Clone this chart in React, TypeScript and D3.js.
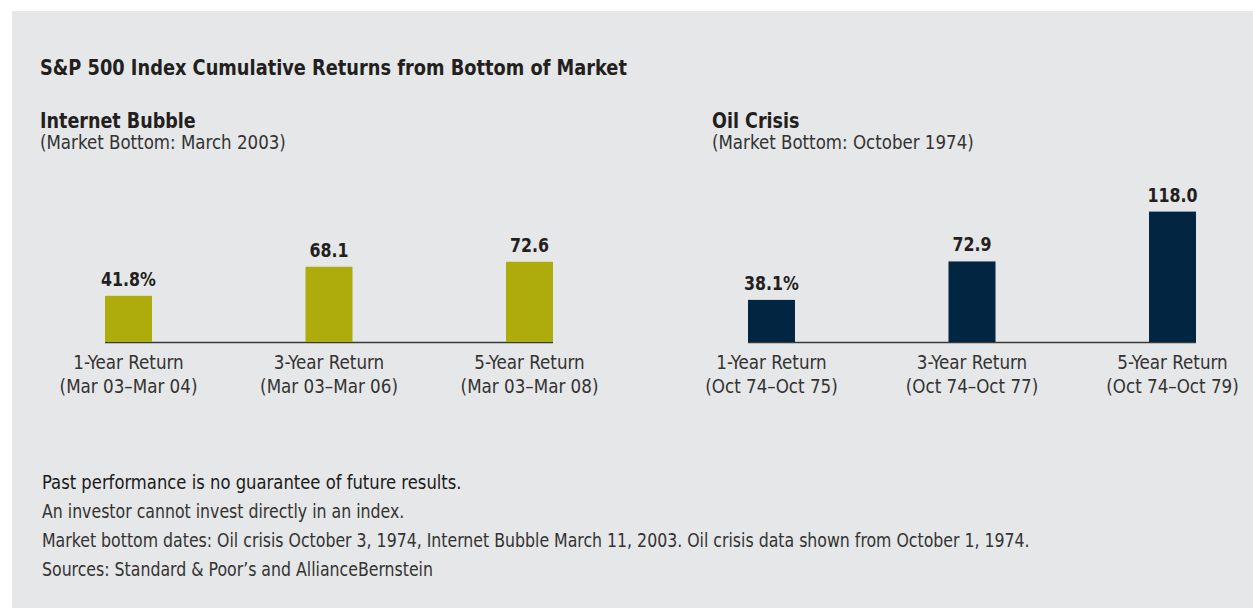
import React from "react";
import * as d3 from "d3";

const chartTitle = "S&P 500 Index Cumulative Returns from Bottom of Market";

const internetCategories = ["1-Year Return", "3-Year Return", "5-Year Return"];
const internetPeriods = ["(Mar 03–Mar 04)", "(Mar 03–Mar 06)", "(Mar 03–Mar 08)"];
const internetValues = [41.8, 68.1, 72.6];
const internetLabels = ["41.8%", "68.1", "72.6"];

const oilCategories = ["1-Year Return", "3-Year Return", "5-Year Return"];
const oilPeriods = ["(Oct 74–Oct 75)", "(Oct 74–Oct 77)", "(Oct 74–Oct 79)"];
const oilValues = [38.1, 72.9, 118.0];
const oilLabels = ["38.1%", "72.9", "118.0"];

const panelTitles = ["Internet Bubble", "Oil Crisis"];
const panelSubtitles = ["(Market Bottom: March 2003)", "(Market Bottom: October 1974)"];

const footnotes = [
  "Past performance is no guarantee of future results.",
  "An investor cannot invest directly in an index.",
  "Market bottom dates: Oil crisis October 3, 1974, Internet Bubble March 11, 2003. Oil crisis data shown from October 1, 1974.",
  "Sources: Standard & Poor’s and AllianceBernstein",
];

const W = 1253;
const H = 608;
const FONT = "'Liberation Sans Narrow', 'DejaVu Sans Condensed', 'Liberation Sans', sans-serif";
const DARK = "#231f20";
const TEXT = "#333333";

const baseY = 342;
const y = d3.scaleLinear().domain([0, 120]).range([baseY, baseY - 132.6]);
const barW = 47;

type TProps = {
  x: number;
  y: number;
  sx: number;
  size: number;
  weight?: number;
  anchor?: "start" | "middle" | "end";
  fill?: string;
  children: React.ReactNode;
};

function T({ x, y, sx, size, weight = 400, anchor = "start", fill = TEXT, children }: TProps) {
  return (
    <text
      transform={`translate(${x},${y}) scale(${sx},1)`}
      textAnchor={anchor}
      fontFamily={FONT}
      fontSize={size}
      fontWeight={weight}
      fill={fill}
    >
      {children}
    </text>
  );
}

type PanelProps = {
  x0: number;
  x1: number;
  cats: string[];
  periods: string[];
  values: number[];
  labels: string[];
  color: string;
  title: string;
  subtitle: string;
  titleX: number;
};

function Panel({ x0, x1, cats, periods, values, labels, color, title, subtitle, titleX }: PanelProps) {
  const keys = cats.map((c, i) => c + i);
  const x = d3.scalePoint<string>().domain(keys).range([x0, x1]);
  return (
    <g>
      <T x={titleX} y={128} sx={0.887} size={22} weight={700} fill={DARK}>
        {title}
      </T>
      <T x={titleX} y={149} sx={0.975} size={19}>
        {subtitle}
      </T>
      <line
        x1={(x(keys[0]) as number) - barW / 2}
        x2={(x(keys[keys.length - 1]) as number) + barW / 2}
        y1={baseY + 0.5}
        y2={baseY + 0.5}
        stroke="#3a3a3a"
        strokeWidth={1.3}
      />
      {values.map((v, i) => {
        const cx = x(keys[i]) as number;
        return (
          <g key={i}>
            <rect x={cx - barW / 2} y={y(v)} width={barW} height={baseY - y(v)} fill={color} />
            <T x={cx} y={y(v) - 10} sx={0.88} size={20} weight={700} anchor="middle" fill={DARK}>
              {labels[i]}
            </T>
            <T x={cx} y={369} sx={0.98} size={19} anchor="middle">
              {cats[i]}
            </T>
            <T x={cx} y={393} sx={0.98} size={19} anchor="middle">
              {periods[i]}
            </T>
          </g>
        );
      })}
    </g>
  );
}

export default function App() {
  return (
    <svg
      width={W}
      height={H}
      style={{ position: "absolute", left: 0, top: 0, display: "block" }}
    >
      <rect x={12} y={11} width={W - 12} height={H - 11} fill="#e6e7e8" />
      <T x={40} y={75} sx={0.942} size={21} weight={700} fill={DARK}>
        {chartTitle}
      </T>
      <Panel
        x0={128.5}
        x1={529.5}
        cats={internetCategories}
        periods={internetPeriods}
        values={internetValues}
        labels={internetLabels}
        color="#aeab0c"
        title={panelTitles[0]}
        subtitle={panelSubtitles[0]}
        titleX={40}
      />
      <Panel
        x0={771.5}
        x1={1172.5}
        cats={oilCategories}
        periods={oilPeriods}
        values={oilValues}
        labels={oilLabels}
        color="#022541"
        title={panelTitles[1]}
        subtitle={panelSubtitles[1]}
        titleX={712}
      />
      {footnotes.map((f, i) => (
        <T
          key={i}
          x={42}
          y={489 + i * 29}
          sx={i === 0 ? 0.961 : 0.922}
          size={19}
          fill={i === 0 ? "#1a1a1a" : TEXT}
        >
          {f}
        </T>
      ))}
    </svg>
  );
}
